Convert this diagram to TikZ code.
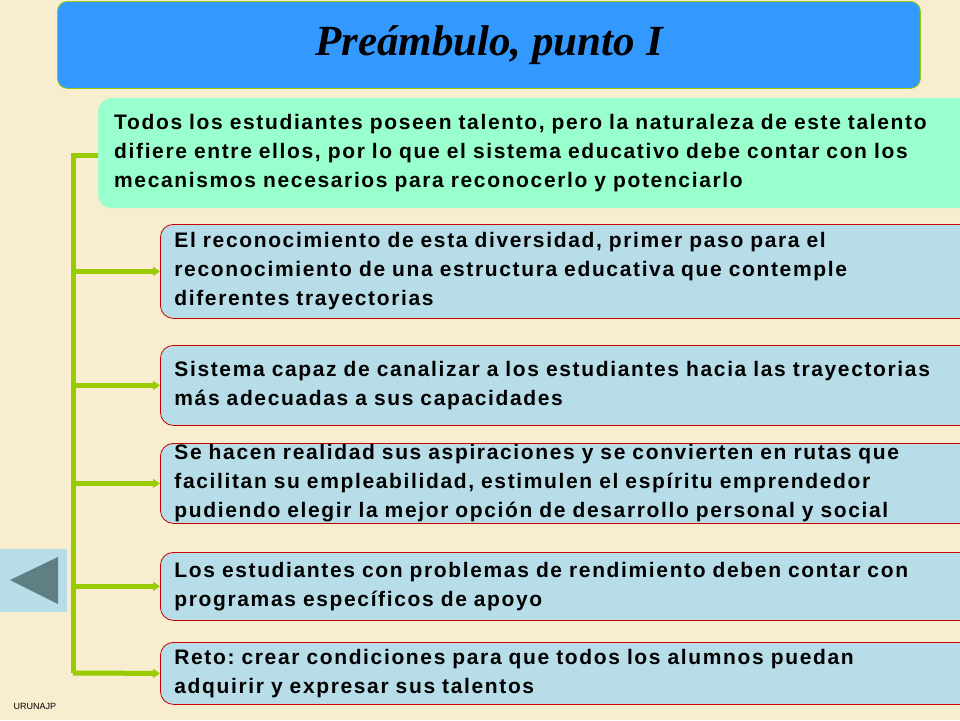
\documentclass[tikz,border=0pt]{standalone}
\usepackage{fontspec}
\setmainfont{Liberation Sans}
\newfontfamily\titlefont{Liberation Serif}
\newfontfamily\boxfont[LetterSpace=7.8]{Liberation Sans}
\usetikzlibrary{arrows.meta,positioning}

\definecolor{paper}{HTML}{F8EDCF}
\definecolor{titleblue}{HTML}{3399FF}
\definecolor{mint}{HTML}{99FFCC}
\definecolor{paleblue}{HTML}{B7DDE8}
\definecolor{branchgreen}{HTML}{99CC00}
\definecolor{backgrey}{HTML}{5F7F85}

\begin{document}
\frenchspacing
\begin{tikzpicture}
[
x=1pt, y=-1pt,
every node/.style={inner sep=0pt},
titlebox/.style={rectangle, rounded corners=10pt, fill=titleblue, draw=branchgreen, line width=0.8pt, minimum width=863pt, minimum height=87pt, anchor=north west},
mainbox/.style={rectangle, rounded corners=13pt, fill=mint, minimum width=862pt, text width=845pt, inner xsep=16pt, align=left, anchor=north west, font=\boxfont\bfseries\fontsize{21}{29}\selectfont},
itembox/.style={rectangle, rounded corners=13pt, fill=paleblue, draw=red!80!black, line width=0.8pt, minimum width=800pt, text width=785pt, inner xsep=14pt, align=left, anchor=north west, font=\boxfont\bfseries\fontsize{21}{29}\selectfont},
branch/.style={draw=branchgreen, line width=5pt},
arrowbranch/.style={branch, -{Triangle[length=7pt,width=9pt]}}
]

\fill[paper] (0,0) rectangle (960,720);
\useasboundingbox (0,0) rectangle (960,720);

\node[titlebox] (title) at (57,1) {\titlefont\bfseries\itshape\fontsize{43}{43}\selectfont Preámbulo, punto I};

\node[mainbox, minimum height=110pt] (talento) at (98,98) {Todos los estudiantes poseen talento, pero la naturaleza de este talento\\difiere entre ellos, por lo que el sistema educativo debe contar con los\\mecanismos necesarios para reconocerlo y potenciarlo};

\node[itembox, minimum height=94pt] (diversidad) at (160,224) {El reconocimiento de esta diversidad, primer paso para el\\reconocimiento de una estructura educativa que contemple\\diferentes trayectorias};
\node[itembox, minimum height=80pt] (sistema) at (160,345) {Sistema capaz de canalizar a los estudiantes hacia las trayectorias\\más adecuadas a sus capacidades};
\node[itembox, minimum height=80pt] (rutas) at (160,443) {Se hacen realidad sus aspiraciones y se convierten en rutas que\\facilitan su empleabilidad, estimulen el espíritu emprendedor\\pudiendo elegir la mejor opción de desarrollo personal y social};
\node[itembox, minimum height=68pt] (apoyo) at (160,552) {Los estudiantes con problemas de rendimiento deben contar con\\programas específicos de apoyo};
\node[itembox, minimum height=62pt] (reto) at (160,642) {Reto: crear condiciones para que todos los alumnos puedan\\adquirir y expresar sus talentos};

\coordinate (trunk) at (73,155);
\coordinate (trunkend) at (73,673);
\draw[branch] (talento.west |- trunk) -- (trunk) -- (trunkend);
\draw[arrowbranch] (trunk |- diversidad.west) -- (diversidad.west);
\draw[arrowbranch] (trunk |- sistema.west) -- (sistema.west);
\draw[arrowbranch] (trunk |- rutas.west) -- (rutas.west);
\draw[arrowbranch] (trunk |- apoyo.west) -- (apoyo.west);
\draw[arrowbranch] (trunkend) -- (reto.west);

\node[rectangle, fill=paleblue, minimum width=67pt, minimum height=63pt, anchor=north west] (back) at (0,549) {};
\fill[backgrey] (10,580) -- (58,557) -- (58,604) -- cycle;

\node[font=\fontsize{9}{9}\selectfont] (autor) at (35,706) {URUNAJP};
\end{tikzpicture}
\end{document}
